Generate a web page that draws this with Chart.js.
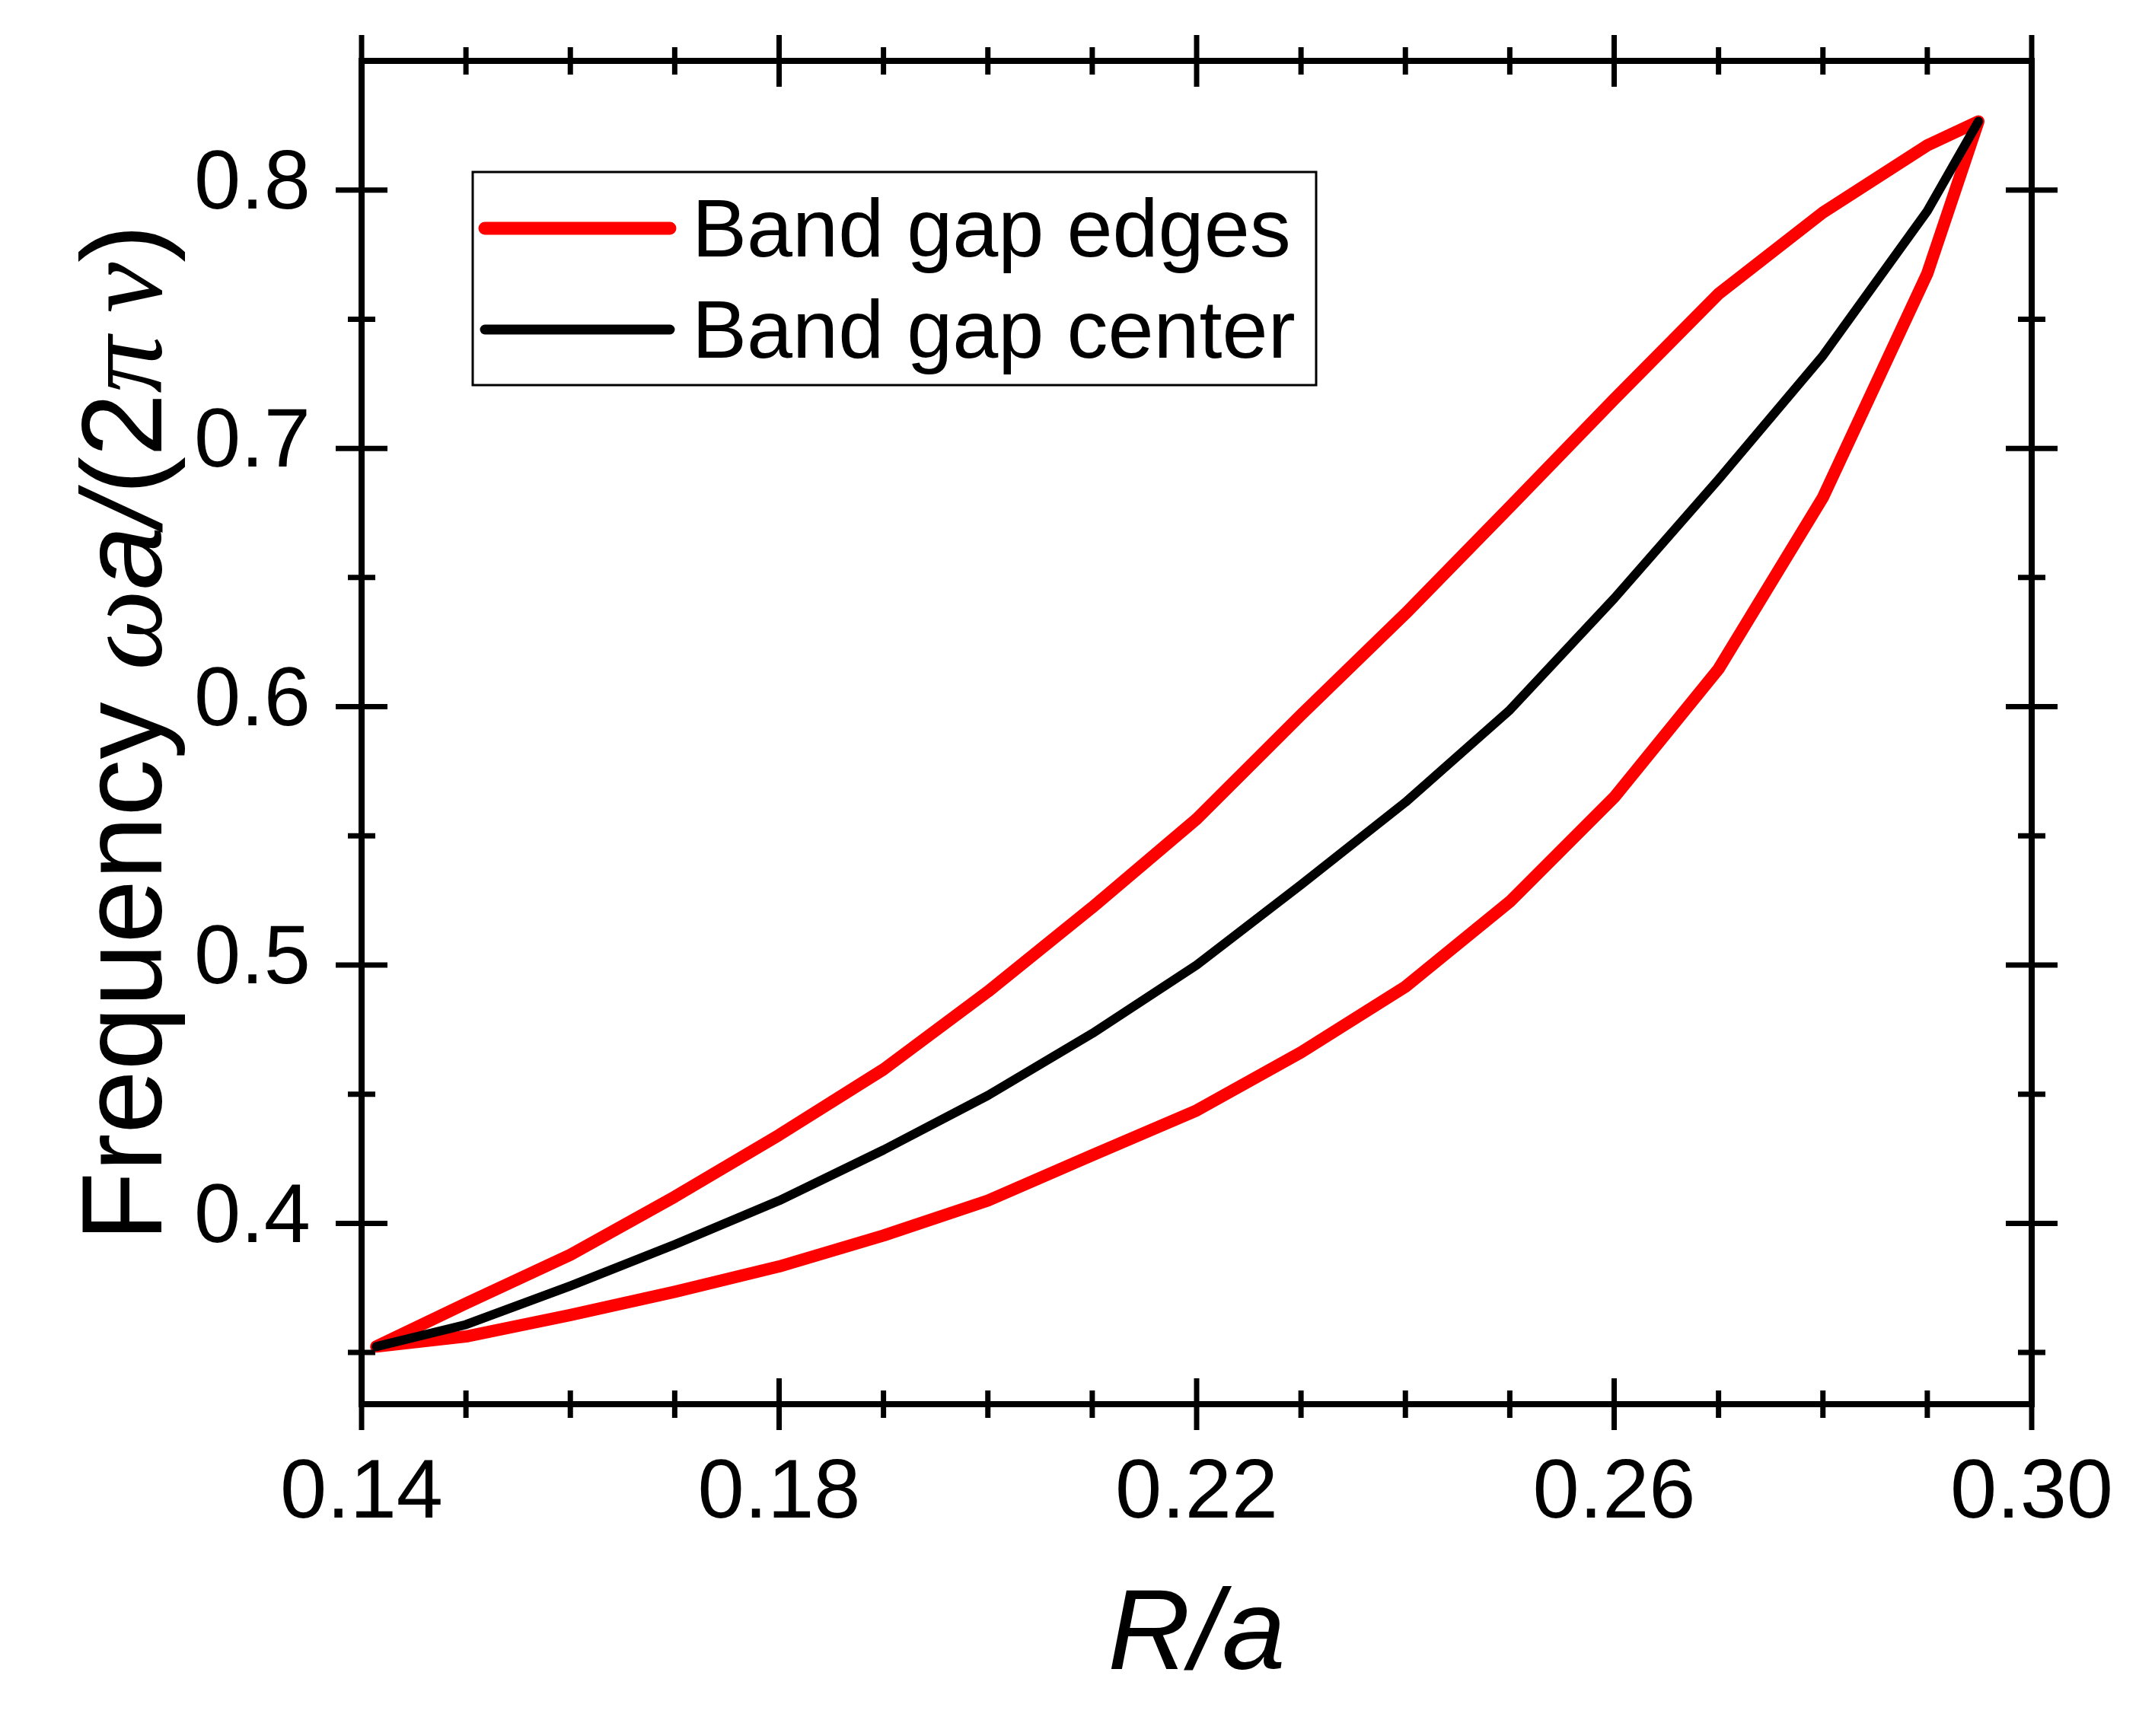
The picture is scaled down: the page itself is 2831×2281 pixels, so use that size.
<!DOCTYPE html>
<html>
<head>
<meta charset="utf-8">
<script src="https://cdn.jsdelivr.net/npm/chart.js@4.4.1/dist/chart.umd.min.js"></script>
<style>
  html, body { margin: 0; padding: 0; background: #fff; }
  #wrap { width: 2831px; height: 2281px; }
</style>
</head>
<body>
<div id="wrap"><canvas id="bandChart" width="2831" height="2281"></canvas></div>
<script>
// R/a values where the gap was computed
const rOverA = [0.1414, 0.15, 0.16, 0.17, 0.18, 0.19, 0.20, 0.21, 0.22, 0.23, 0.24, 0.25, 0.26, 0.27, 0.28, 0.29, 0.2949];
// upper and lower band gap edges, and gap center  (omega a / 2 pi c)
const gapUpper  = [0.3523, 0.3690, 0.3878, 0.4103, 0.4342, 0.4596, 0.4897, 0.5223, 0.5565, 0.5968, 0.6360, 0.6773, 0.7190, 0.7598, 0.7913, 0.8173, 0.8266];
const gapLower  = [0.3523, 0.3562, 0.3645, 0.3735, 0.3833, 0.3953, 0.4088, 0.4264, 0.4437, 0.4662, 0.4916, 0.5245, 0.5649, 0.6146, 0.6810, 0.7677, 0.8266];
const gapCenter = [0.3523, 0.3608, 0.3758, 0.3918, 0.4088, 0.4284, 0.4495, 0.4735, 0.5000, 0.5311, 0.5630, 0.5987, 0.6419, 0.6880, 0.7359, 0.7919, 0.8266];

const seriesNames = ['Band gap edges', 'Band gap center'];
const xMajorTicks = [0.14, 0.18, 0.22, 0.26, 0.30];
const yMajorTicks = [0.4, 0.5, 0.6, 0.7, 0.8];

const FONT = '"Liberation Sans", Arial, sans-serif';

function isMajor(list, v) {
    return list.some(m => Math.abs(m - v) < 1e-6);
}

// edges: go up along the upper edge and come back along the lower one
const edgePoints = rOverA.map((r, i) => ({ x: r, y: gapUpper[i] }))
    .concat(rOverA.map((r, i) => ({ x: r, y: gapLower[i] })).reverse().slice(1));
const centerPoints = rOverA.map((r, i) => ({ x: r, y: gapCenter[i] }));

// box frame with in/out ticks on all four sides
const frameTicks = {
    id: 'frameTicks',
    afterDatasetsDraw(chart) {
        const { ctx, chartArea: a, scales: { x, y } } = chart;
        ctx.save();
        ctx.strokeStyle = '#000';
        ctx.lineWidth = 8;
        ctx.strokeRect(a.left, a.top, a.right - a.left, a.bottom - a.top);
        ctx.lineWidth = 7;
        x.ticks.forEach(t => {
            const px = x.getPixelForValue(t.value);
            const len = isMajor(xMajorTicks, t.value) ? 34 : 18;
            [a.top, a.bottom].forEach(py => {
                ctx.beginPath(); ctx.moveTo(px, py - len); ctx.lineTo(px, py + len); ctx.stroke();
            });
        });
        y.ticks.forEach(t => {
            const py = y.getPixelForValue(t.value);
            const len = isMajor(yMajorTicks, t.value) ? 34 : 18;
            [a.left, a.right].forEach(px => {
                ctx.beginPath(); ctx.moveTo(px - len, py); ctx.lineTo(px + len, py); ctx.stroke();
            });
        });
        ctx.restore();
    }
};

// framed legend inside the plot + mixed-font y title
const boxLegend = {
    id: 'boxLegend',
    afterDraw(chart) {
        const ctx = chart.ctx;
        ctx.save();
        ctx.strokeStyle = '#000';
        ctx.lineWidth = 3;
        ctx.strokeRect(621, 226, 1108, 280);
        ctx.font = '108px ' + FONT;
        ctx.fillStyle = '#000';
        ctx.textBaseline = 'alphabetic';
        ctx.lineCap = 'round';
        chart.data.datasets.forEach((ds, i) => {
            const ly = 300 + i * 133;
            ctx.strokeStyle = ds.borderColor;
            ctx.lineWidth = ds.borderWidth + 1;
            ctx.beginPath(); ctx.moveTo(637, ly); ctx.lineTo(880, ly); ctx.stroke();
            ctx.fillText(ds.label, 909, ly + 37);
        });

        // y axis title
        const parts = [
            ['Frequency ', 'normal 150px ' + FONT],
            ['\u03C9', 'italic 150px "Liberation Serif", serif'],
            ['a/', 'italic 150px ' + FONT],
            ['(2', 'normal 150px ' + FONT],
            ['\u03C0\u2009\u03BD', 'italic 150px "Liberation Serif", serif'],
            [')', 'normal 150px ' + FONT]
        ];
        let total = 0;
        parts.forEach(p => { ctx.font = p[1]; total += ctx.measureText(p[0]).width; });
        ctx.translate(212, 963);
        ctx.rotate(-Math.PI / 2);
        let cx = -total / 2;
        ctx.textAlign = 'left';
        parts.forEach(p => {
            ctx.font = p[1];
            ctx.fillText(p[0], cx, 0);
            cx += ctx.measureText(p[0]).width;
        });
        ctx.restore();
    }
};

const config = {
    type: 'line',
    data: {
        datasets: [{
            label: seriesNames[0],
            data: edgePoints,
            borderColor: '#ff0000',
            borderWidth: 16,
            borderJoinStyle: 'round',
            borderCapStyle: 'round',
            pointRadius: 0,
            tension: 0,
            order: 2
        }, {
            label: seriesNames[1],
            data: centerPoints,
            borderColor: '#000000',
            borderWidth: 12,
            borderJoinStyle: 'round',
            borderCapStyle: 'round',
            pointRadius: 0,
            tension: 0,
            order: 1
        }]
    },
    options: {
        responsive: false,
        animation: false,
        devicePixelRatio: 1,
        layout: { padding: { top: 80, right: 162, left: 0, bottom: 0 } },
        plugins: {
            legend: { display: false },
            tooltip: { enabled: false }
        },
        scales: {
            x: {
                type: 'linear',
                min: 0.14,
                max: 0.30,
                grid: { display: false },
                border: { display: false },
                ticks: {
                    stepSize: 0.01,
                    autoSkip: false,
                    maxRotation: 0,
                    padding: 45,
                    color: '#000',
                    font: { family: FONT, size: 110 },
                    callback: v => isMajor(xMajorTicks, v) ? v.toFixed(2) : ''
                },
                title: {
                    display: true,
                    text: 'R/a',
                    color: '#000',
                    font: { family: FONT, size: 150, style: 'italic' },
                    padding: { top: 0, bottom: 40 }
                },
                afterFit: s => { s.height = 436; s.paddingLeft = 0; s.paddingRight = 0; }
            },
            y: {
                min: 0.33,
                max: 0.85,
                grid: { display: false },
                border: { display: false },
                ticks: {
                    stepSize: 0.05,
                    includeBounds: false,
                    autoSkip: false,
                    padding: 59,
                    labelOffset: -6,
                    color: '#000',
                    font: { family: FONT, size: 110 },
                    callback: v => isMajor(yMajorTicks, v) ? v.toFixed(1) : ''
                },
                afterFit: s => { s.width = 475; s.paddingTop = 0; s.paddingBottom = 0; }
            }
        }
    },
    plugins: [frameTicks, boxLegend]
};

new Chart(document.getElementById('bandChart').getContext('2d'), config);
</script>
</body>
</html>
